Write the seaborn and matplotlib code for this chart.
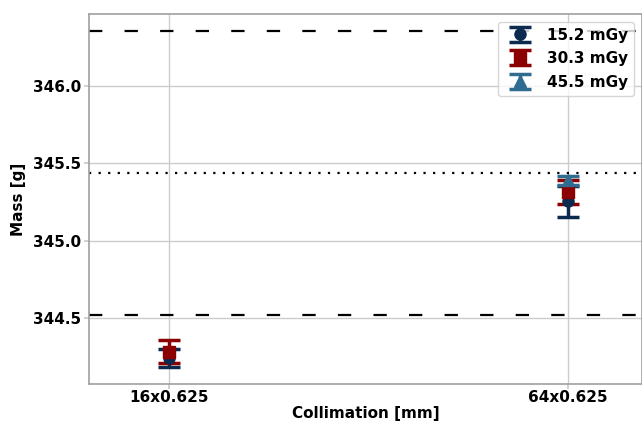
import numpy as np
import matplotlib
matplotlib.use("Agg")
import matplotlib.pyplot as plt
import seaborn as sns

# Collimation settings on the x axis
collimations = ["16x0.625", "64x0.625"]

# Dose levels (legend entries)
doses = ["15.2 mGy", "30.3 mGy", "45.5 mGy"]

# Mean mass and error per dose level, one value per collimation
mass_15 = [344.242, 345.255]
err_15 = [0.057, 0.100]
mass_30 = [344.283, 345.313]
err_30 = [0.072, 0.078]
mass_45 = [np.nan, 345.389]
err_45 = [np.nan, 0.030]

# Reference mass and its limits
ref_mean = 345.44
ref_upper = 346.356
ref_lower = 344.519

colors = ["#0b2a4f", "#8b0000", "#2f6c8f"]
markers = ["o", "s", "^"]

sns.set_theme(style="whitegrid")
plt.rcParams["font.family"] = ["DejaVu Sans"]
plt.rcParams["font.weight"] = "bold"
plt.rcParams["text.color"] = "black"
plt.rcParams["axes.labelcolor"] = "black"
plt.rcParams["xtick.color"] = "black"
plt.rcParams["ytick.color"] = "black"

fig = plt.figure(figsize=(6.42, 4.22), dpi=100)
ax = fig.add_axes([89 / 642, 1 - 384 / 422, 1 - 89 / 642, (384 - 14) / 422])

series = [(mass_15, err_15), (mass_30, err_30), (mass_45, err_45)]
for (vals, errs), label, c, m in zip(series, doses, colors, markers):
    ax.errorbar(collimations, vals, yerr=errs, fmt=m, color=c, ecolor=c,
                markersize=8, elinewidth=2.5, capsize=8, capthick=2.5,
                label=label, zorder=3)

ax.axhline(ref_upper, color="black", lw=1.6, dashes=(6, 10), zorder=2)
ax.axhline(ref_lower, color="black", lw=1.6, dashes=(6, 10), zorder=2)
ax.axhline(ref_mean, color="black", lw=1.6, dashes=(1, 3.3), zorder=2)

ax.set_xlim(-0.2, 1.186)
ax.set_ylim(344.073, 346.465)
ax.set_yticks([344.5, 345.0, 345.5, 346.0])
ax.set_yticklabels([f"{v:.1f}" for v in [344.5, 345.0, 345.5, 346.0]])

ax.tick_params(axis="both", labelsize=11, length=3.5, pad=2,
               left=True, bottom=True)
ax.tick_params(axis="x", pad=0.5)
ax.tick_params(axis="both", which="major", color="#cccccc")
for lab in ax.get_xticklabels() + ax.get_yticklabels():
    lab.set_fontweight("bold")
    lab.set_color("black")

ax.set_xlabel("Collimation [mm]", fontsize=11, fontweight="bold", labelpad=1)
ax.set_ylabel("Mass [g]", fontsize=11, fontweight="bold", labelpad=5)

for s in ax.spines.values():
    s.set_color("#a0a0a0")
    s.set_linewidth(1.2)

leg = ax.legend(loc="upper right", prop={"weight": "bold", "size": 11},
                frameon=True, borderaxespad=0.5, handletextpad=0.8,
                labelspacing=0.55)
leg.get_frame().set_edgecolor("#cccccc")

fig.savefig("out.png", dpi=100)
